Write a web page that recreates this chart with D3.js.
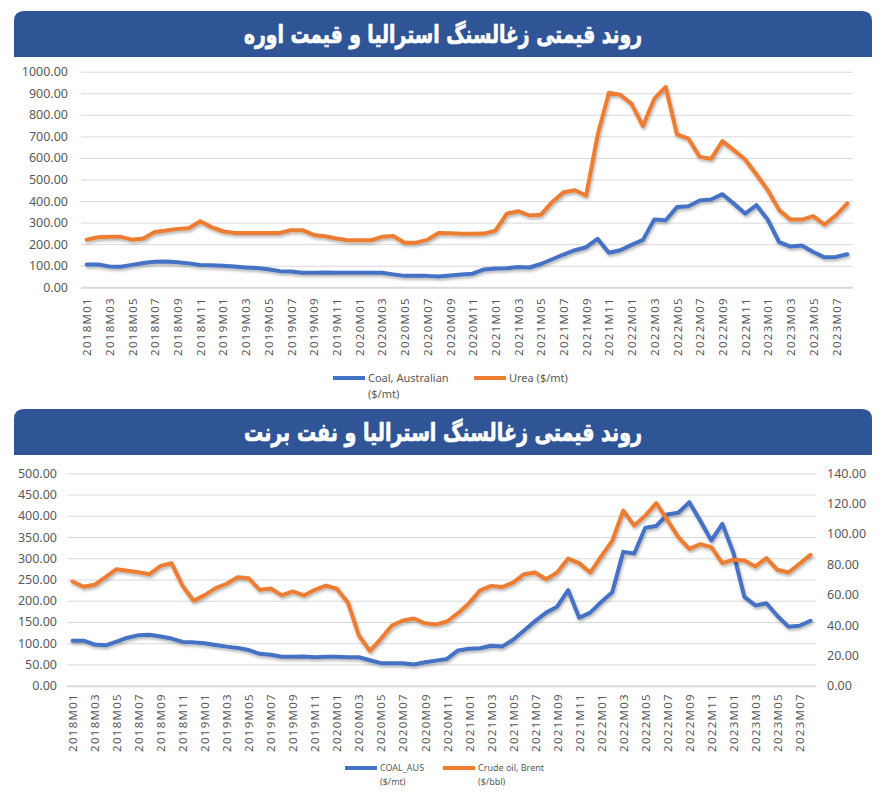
<!DOCTYPE html>
<html><head><meta charset="utf-8">
<script src="https://cdn.jsdelivr.net/npm/d3@7"></script>
<style>body{margin:0;background:#fff}text{font-family:"Noto Sans",sans-serif}</style>
</head><body>
<svg id="c" width="882" height="800"></svg>
<script>
const years = [2018, 2019, 2020, 2021, 2022, 2023];
const monthCount = 68;
const categories = [];
years.forEach(y => { for (let m = 1; m <= 12; m++) categories.push(y + "M" + String(m).padStart(2, "0")); });
categories.length = monthCount;

const coal = [106,106,97,95,104,113,119,120,116,111,103,102,
  100,96,92,89,84,75,73,68,68,69,67,68,
  68,67,67,60,53,53,53,50,55,59,63,83,
  87,88,94,92,108,130,152,172,186,225,160,172,
  197,220,315,311,372,376,403,407,432,388,342,381,
  313,209,189,194,164,139,141,153];
const urea = [221,232,234,234,221,226,257,263,271,274,306,279,
  260,252,252,252,252,252,265,265,243,237,226,218,
  218,218,234,238,207,207,220,252,251,248,248,249,
  263,341,353,333,336,395,441,450,426,704,902,893,
  851,748,875,929,709,690,605,596,678,636,593,523,
  450,358,314,314,330,291,334,389];
const brent = [68.7,65.2,66.5,71.5,76.8,75.7,74.8,73.5,79.0,80.7,65.8,56.0,
  59.7,64.3,67.2,71.5,70.8,63.2,64.1,59.5,62.1,59.5,63.2,66.0,
  63.9,54.9,33.1,23.0,30.9,39.7,43.0,44.3,41.1,40.4,42.3,47.8,
  54.4,62.8,65.8,65.0,68.0,73.5,74.6,70.2,74.6,83.8,80.8,74.6,
  85.2,95.4,115.4,105.6,112.1,120.3,109.3,97.9,90.2,93.3,91.3,80.8,
  83.0,82.5,78.6,84.1,76.4,74.6,80.3,86.2];

const ticksTop = d3.range(0, 1001, 100);
const ticksLeft2 = d3.range(0, 501, 50);
const ticksRight2 = d3.range(0, 141, 20);
const title1 = "روند قیمتی زغالسنگ استرالیا و قیمت اوره";
const title2 = "روند قیمتی زغالسنگ استرالیا و نفت برنت";
const legend1 = [["Coal, Australian", "($/mt)"], ["Urea ($/mt)", ""]];
const legend2 = [["COAL_AUS", "($/mt)"], ["Crude oil, Brent", "($/bbl)"]];

const BLUE = "#4472C4", ORANGE = "#ED7D31", BAR = "#2F5597", GRID = "#D9D9D9", TXT = "#595959";
const svg = d3.select("#c");
const defs = svg.append("defs");
const f = defs.append("filter").attr("id", "sh").attr("x", "-5%").attr("y", "-5%").attr("width", "110%").attr("height", "120%");
f.append("feDropShadow").attr("dx", 1).attr("dy", 2).attr("stdDeviation", 1.5).attr("flood-color", "#000").attr("flood-opacity", 0.3);
const fmt = d3.format(".2f");

function titleBar(y0, h, text) {
  const x0 = 14, w = 858, r = 10;
  svg.append("path")
    .attr("d", `M${x0},${y0 + h}V${y0 + r}Q${x0},${y0} ${x0 + r},${y0}H${x0 + w - r}Q${x0 + w},${y0} ${x0 + w},${y0 + r}V${y0 + h}Z`)
    .attr("fill", BAR);
  svg.append("text").attr("x", x0 + w / 2).attr("y", y0 + h / 2 + 9)
    .attr("text-anchor", "middle").attr("direction", "rtl")
    .style("font-family", "'DejaVu Sans',sans-serif").style("font-weight", "bold")
    .style("font-size", "25px").attr("fill", "#fff")
    .attr("stroke", "#fff").attr("stroke-width", 0.7)
    .attr("textLength", 398).attr("lengthAdjust", "spacingAndGlyphs")
    .text(text);
}

function chart(o) {
  const x = d3.scalePoint().domain(categories).range([o.x0, o.x1]).padding(0.5);
  const y = d3.scaleLinear().domain(o.yDom).range([o.yb, o.yt]);
  const g = svg.append("g");
  g.append("g").attr("transform", `translate(${o.x0},0)`)
    .call(d3.axisLeft(y).tickValues(o.yTicks).tickSize(-(o.x1 - o.x0)).tickFormat(""))
    .call(s => s.select(".domain").remove())
    .call(s => s.selectAll("line").attr("stroke", GRID).attr("stroke-width", d => d === 0 ? 2 : 1));
  g.append("g").attr("transform", `translate(${o.lx},0)`)
    .call(d3.axisLeft(y).tickValues(o.yTicks).tickSize(0).tickFormat(fmt).tickPadding(0))
    .call(s => s.select(".domain").remove())
    .call(s => s.selectAll("text").attr("fill", TXT).style("font-size", "12.5px").style("font-family", "'Noto Sans',sans-serif"));
  let yR = null;
  if (o.rDom) {
    yR = d3.scaleLinear().domain(o.rDom).range([o.yb, o.yt]);
    g.append("g").attr("transform", `translate(${o.rx},0)`)
      .call(d3.axisRight(yR).tickValues(o.rTicks).tickSize(0).tickFormat(fmt).tickPadding(0))
      .call(s => s.select(".domain").remove())
      .call(s => s.selectAll("text").attr("fill", TXT).style("font-size", "12.5px").style("font-family", "'Noto Sans',sans-serif"));
  }
  g.append("g").attr("transform", `translate(0,${o.xly})`)
    .call(d3.axisBottom(x).tickValues(categories.filter((d, i) => i % 2 === 0)).tickSize(0).tickPadding(0))
    .call(s => s.select(".domain").remove())
    .call(s => s.selectAll("text").attr("fill", TXT).attr("transform", "rotate(-90)")
      .attr("text-anchor", "end").attr("x", 0).attr("y", 0).attr("dy", "0.35em")
      .style("font-size", "11.5px").style("letter-spacing", "1.3px").style("font-family", "'Noto Sans',sans-serif"));
  o.series.forEach(s => {
    const sc = s.right ? yR : y;
    g.append("path").datum(s.values)
      .attr("fill", "none").attr("stroke", s.color).attr("stroke-width", 4)
      .attr("stroke-linejoin", "round").attr("stroke-linecap", "round")
      .attr("filter", "url(#sh)")
      .attr("d", d3.line().x((d, i) => x(categories[i])).y(d => sc(d)));
  });
  o.legend.forEach((l, k) => {
    const lx = o.legX[k];
    g.append("line").attr("x1", lx).attr("x2", lx + o.legW).attr("y1", o.legY).attr("y2", o.legY)
      .attr("stroke", o.series[k].color).attr("stroke-width", 4);
    const t = g.append("text").attr("x", lx + o.legW + 3).attr("y", o.legY + o.legFs * 0.35)
      .attr("fill", TXT).style("font-size", o.legFs + "px").style("font-family", "'Liberation Sans Narrow','Noto Sans',sans-serif");
    t.append("tspan").text(l[0]);
    if (l[1]) t.append("tspan").attr("x", lx + o.legW + 3).attr("dy", o.legFs * 1.5).text(l[1]);
  });
}

titleBar(11, 46, title1);
chart({
  x0: 81, x1: 853, yb: 287.3, yt: 71.7, yDom: [0, 1000], yTicks: ticksTop, lx: 68,
  xly: 297,
  series: [{ values: coal, color: BLUE }, { values: urea, color: ORANGE }],
  legend: legend1, legX: [333, 474], legW: 32, legY: 378, legFs: 11
});

titleBar(409, 46, title2);
chart({
  x0: 67, x1: 816, yb: 685.7, yt: 473.3, yDom: [0, 500], yTicks: ticksLeft2, lx: 57,
  rDom: [0, 140], rTicks: ticksRight2, rx: 827,
  xly: 693,
  series: [{ values: coal, color: BLUE }, { values: brent, color: ORANGE, right: true }],
  legend: legend2, legX: [345, 443], legW: 32, legY: 768, legFs: 9
});
</script>
</body></html>
